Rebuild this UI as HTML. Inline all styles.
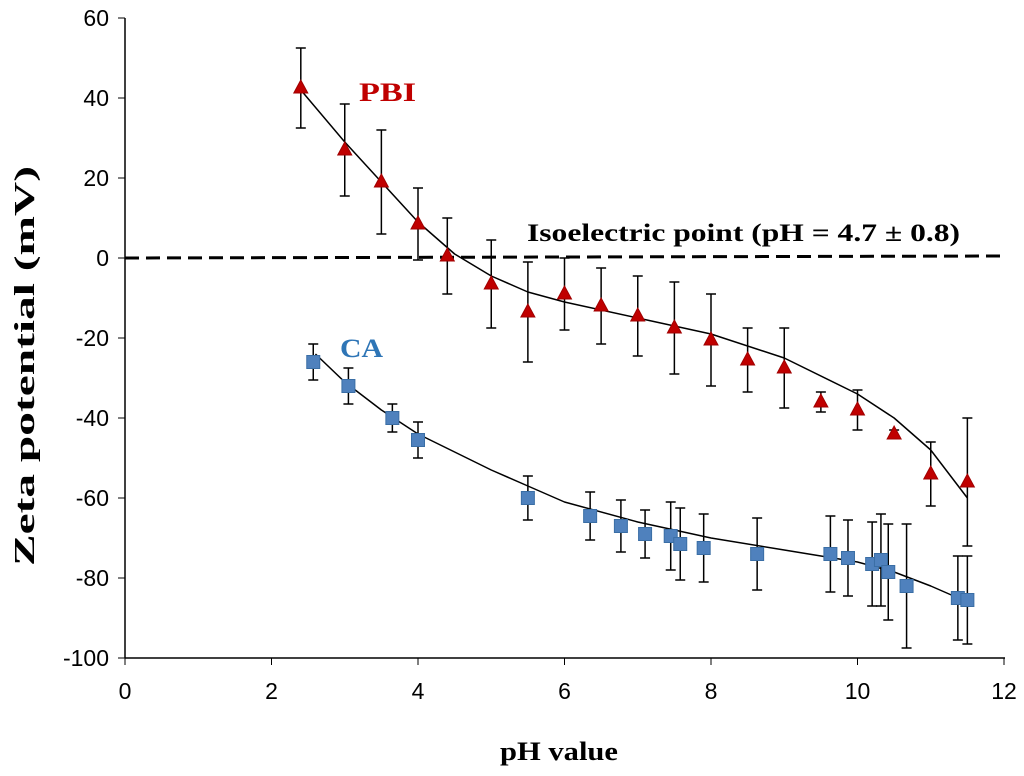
<!DOCTYPE html>
<html><head><meta charset="utf-8"><style>
body{margin:0;background:#fff}
svg{display:block}
.tick{font-family:"Liberation Sans",sans-serif;font-size:23px;fill:#000}
.t{font-family:"Liberation Serif",serif;font-weight:bold}
</style></head><body>
<svg id="chart" width="1024" height="776">
<g id="axes"></g>
<g id="marks"></g>
<text class="t" x="500" y="760" font-size="26" textLength="118" lengthAdjust="spacingAndGlyphs">pH value</text>
<text class="t" x="0" y="0" font-size="28" text-anchor="middle" textLength="400" lengthAdjust="spacingAndGlyphs" transform="translate(34,366) rotate(-90)">Zeta potential (mV)</text>
<text class="t" x="359" y="101" font-size="26" fill="#c00000" textLength="57" lengthAdjust="spacingAndGlyphs">PBI</text>
<text class="t" x="340" y="357" font-size="26" fill="#2e75b6" textLength="43" lengthAdjust="spacingAndGlyphs">CA</text>
<text class="t" x="527" y="241" font-size="25" textLength="433" lengthAdjust="spacingAndGlyphs">Isoelectric point (pH = 4.7 ± 0.8)</text>
</svg>
<script>
const xTicks=[0,2,4,6,8,10,12];
const yTicks=[60,40,20,0,-20,-40,-60,-80,-100];
const pbiX=[2.4,3.0,3.5,4.0,4.4,5.0,5.5,6.0,6.5,7.0,7.5,8.0,8.5,9.0,9.5,10.0,10.5,11.0,11.5];
const pbiY=[42.5,27,19,8.5,0.5,-6.5,-13.5,-9,-12,-14.5,-17.5,-20.5,-25.5,-27.5,-36,-38,-44,-54,-56];
const pbiErr=[10,11.5,13,9,9.5,11,12.5,9,9.5,10,11.5,11.5,8,10,2.5,5,1,8,16];
const caX=[2.57,3.05,3.65,4.0,5.5,6.35,6.77,7.1,7.45,7.58,7.9,8.63,9.63,9.87,10.2,10.32,10.42,10.67,11.37,11.5];
const caY=[-26,-32,-40,-45.5,-60,-64.5,-67,-69,-69.5,-71.5,-72.5,-74,-74,-75,-76.5,-75.5,-78.5,-82,-85,-85.5];
const caErr=[4.5,4.5,3.5,4.5,5.5,6,6.5,6,8.5,9,8.5,9,9.5,9.5,10.5,11.5,12,15.5,10.5,11];
const pbiFitX=[2.4,3,3.5,4,4.5,5,5.5,6,7,8,9,10,10.5,11,11.5];
const pbiFitY=[42,29,19,9,1,-4.5,-8.5,-11,-15,-19,-25,-34,-40,-48,-60];
const caFitX=[2.6,3,3.5,4,5,5.5,6,7,8,9,10,10.5,11,11.5];
const caFitY=[-24,-31,-38,-44,-53,-57,-61,-66,-70,-73,-76,-78.5,-82,-86];
const NS='http://www.w3.org/2000/svg';
const sx=v=>125+v*73.25, sy=v=>258-v*4;
const ax=document.getElementById('axes'), mk=document.getElementById('marks');
function el(t,a,p){const e=document.createElementNS(NS,t);for(const k in a)e.setAttribute(k,a[k]);p.appendChild(e);return e;}
let e=el('line',{x1:125,y1:18,x2:125,y2:658,stroke:'#000','stroke-width':1.5},ax);


e=el('line',{x1:125,y1:658,x2:1005,y2:658,stroke:'#000','stroke-width':1.5},ax);


xTicks.forEach(v=>{el('line',{x1:sx(v),x2:sx(v),y1:658,y2:665,stroke:'#000'},ax);
 const t=el('text',{x:sx(v),y:699,'text-anchor':'middle',class:'tick'},ax);t.textContent=v;
 
 });
yTicks.forEach(v=>{el('line',{x1:118,x2:125,y1:sy(v),y2:sy(v),stroke:'#000'},ax);
 const t=el('text',{x:109,y:sy(v)+8,'text-anchor':'end',class:'tick'},ax);t.textContent=v;
 
 });
e=el('line',{x1:125,y1:sy(0),x2:1005,y2:sy(0)-2,stroke:'#000','stroke-width':3,'stroke-dasharray':'14 7'},mk);


function fit(xs,ys,name){const p=el('polyline',{points:xs.map((x,i)=>sx(x)+','+sy(ys[i])).join(' '),fill:'none',stroke:'#000','stroke-width':1.5,'stroke-linejoin':'round'},mk);
 
 }
fit(pbiFitX,pbiFitY,'pbi-trendline');fit(caFitX,caFitY,'ca-trendline');
function err(x,y,d){const X=sx(x),a=sy(y+d),b=sy(y-d);
 const g=el('g',{stroke:'#000','stroke-width':1.5},mk);
 
 
 el('line',{x1:X,x2:X,y1:a,y2:b},g);el('line',{x1:X-5,x2:X+5,y1:a,y2:a},g);el('line',{x1:X-5,x2:X+5,y1:b,y2:b},g);}
pbiX.forEach((x,i)=>err(x,pbiY[i],pbiErr[i]));
caX.forEach((x,i)=>err(x,caY[i],caErr[i]));
pbiX.forEach((x,i)=>{const X=sx(x),Y=sy(pbiY[i]);
 const p=el('polygon',{points:`${X},${Y-8} ${X-7},${Y+5} ${X+7},${Y+5}`,fill:'#c00000',stroke:'#a00000'},mk);
 
 });
caX.forEach((x,i)=>{const X=sx(x),Y=sy(caY[i]);
 const r=el('rect',{x:X-6.5,y:Y-6.5,width:13,height:13,fill:'#4f81bd',stroke:'#3a6ea5'},mk);
 
 });
</script>
</body></html>
